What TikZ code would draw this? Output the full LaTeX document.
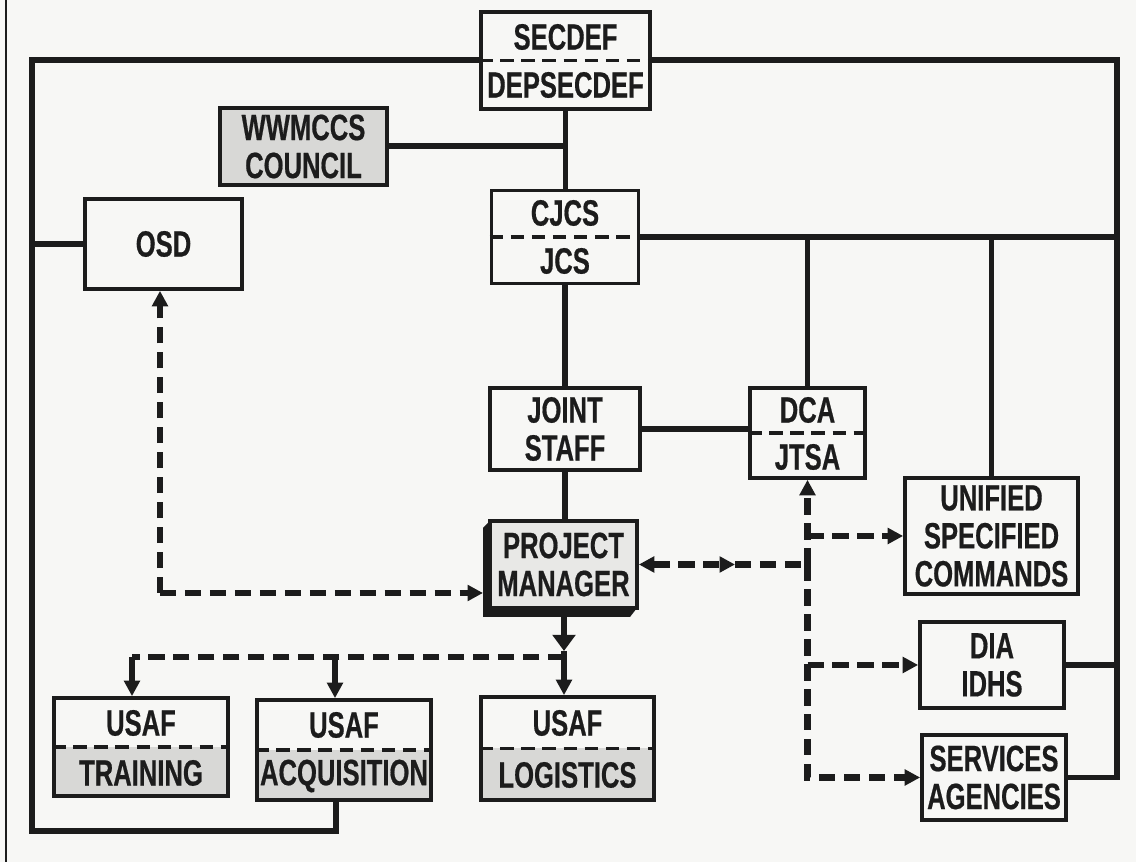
\documentclass[tikz,border=0pt]{standalone}
\usepackage{fontspec}
\setmainfont{Liberation Sans}[FakeStretch=0.7, BoldFeatures={FakeBold=0.5}]
\usetikzlibrary{arrows.meta}
\definecolor{bg}{HTML}{F7F7F5}
\definecolor{ink}{HTML}{1C1C1C}
\definecolor{grayfill}{HTML}{D8D8D6}
\definecolor{pmfill}{HTML}{E8E8E6}
\tikzset{
  box/.style={draw=ink, line width=1.05pt, fill=bg, inner sep=0pt, align=center,
    font=\bfseries\fontsize{10.4}{10.8}\selectfont, text=ink},
  sz/.style 2 args={minimum width=#1*0.01cm, minimum height=#2*0.01cm},
  lowshade/.style={path picture={\fill[grayfill] (path picture bounding box.west) rectangle (path picture bounding box.south east);}},
  lbl/.style={inner sep=0pt, font=\bfseries\fontsize{10.4}{10.8}\selectfont, text=ink},
  conn/.style={draw=ink, line width=1.7pt},
  dsh/.style={draw=ink, line width=1.75pt, dash pattern=on 4.6pt off 2.5pt},
  divd/.style={draw=ink, line width=1pt, dash pattern=on 3.8pt off 2.2pt},
  tri/.tip={Triangle[length=4.4pt,width=4.4pt]},
  bigtri/.tip={Triangle[length=4.6pt,width=6.4pt]}
}
\begin{document}
\begin{tikzpicture}[x=0.01cm, y=-0.01cm]
\useasboundingbox (0,0) rectangle (1136,862);
\fill[bg] (0,0) rectangle (1136,862);
\draw[ink, line width=0.6pt] (6,0) -- (6,862);

% boxes
\node[box, sz={169}{97}] (secdef) at (565.5,60.5) {};
\node[lbl] (secdef-t) at (565.5,37) {SECDEF};
\node[lbl] (secdef-b) at (565.5,85) {DEPSECDEF};

\node[box, sz={167}{77}, fill=grayfill] (wwmccs) at (303.5,146.5) {WWMCCS\\COUNCIL};
\node[box, sz={157}{90}] (osd) at (163.5,244) {OSD};

\node[box, sz={147}{93}] (cjcs) at (565,237) {};
\node[lbl] (cjcs-t) at (565,213) {CJCS};
\node[lbl] (cjcs-b) at (565,261) {JCS};

\node[box, sz={150}{82}] (joint) at (565,429) {JOINT\\STAFF};

\node[box, sz={115}{90}] (dca) at (807.5,433) {};
\node[lbl] (dca-t) at (807.5,410) {DCA};
\node[lbl] (dca-b) at (807.5,457) {JTSA};

\node[box, sz={173}{116}] (unified) at (991.5,536) {UNIFIED\\SPECIFIED\\COMMANDS};
\node[box, sz={144}{86}] (dia) at (992,665) {DIA\\IDHS};
\node[box, sz={144}{85}] (services) at (994,777.5) {SERVICES\\AGENCIES};

% project manager with extruded edge
\fill[ink] (490,521) -- (483,528) -- (483,617) -- (630,617) -- (637,608) -- (637,521) -- cycle;
\node[box, sz={147}{87}, fill=pmfill] (pm) at (563.5,564.5) {PROJECT\\MANAGER};

\node[box, sz={174}{98}, lowshade] (training) at (141,747) {};
\node[lbl] (training-t) at (141,723) {USAF};
\node[lbl] (training-b) at (141,773) {TRAINING};

\node[box, sz={174}{100}, lowshade] (acq) at (344,750) {};
\node[lbl] (acq-t) at (344,725) {USAF};
\node[lbl] (acq-b) at (344,776) {ACQUISITION};

\node[box, sz={173}{103}, lowshade] (logistics) at (567.5,748.5) {};
\node[lbl] (logistics-t) at (567.5,723) {USAF};
\node[lbl] (logistics-b) at (567.5,775) {LOGISTICS};

% dividers
\foreach \n in {secdef,cjcs,dca,training,acq,logistics}
  \draw[divd] (\n.west) -- (\n.east);

% helper coordinates
\coordinate (lx) at (32,0);
\coordinate (rx) at (1117,0);
\coordinate (lb) at (32,831);
\coordinate (acqb) at (336,800);
\coordinate (oc) at (160,593);
\coordinate (pmin) at (483,593);
\coordinate (mid) at (735,564.5);
\coordinate (jn) at (807.5,564.5);
\coordinate (pmb) at (564,617);
\coordinate (pmarr) at (564,651);
\coordinate (split) at (564,657);
\coordinate (trx) at (132,657);
\coordinate (acx) at (335,657);

% solid connectors
\draw[conn] (secdef.west) -| (lb) -| (acqb);
\draw[conn] (secdef.east) -| (services.east -| rx) -- (services.east);
\draw[conn] (dia.east) -- (dia.east -| rx);
\draw[conn] (secdef.south) -- (secdef.south |- cjcs.north);
\draw[conn] (wwmccs.east) -- (wwmccs.east -| secdef.south);
\draw[conn] (osd.west) -- (osd.west -| lx);
\draw[conn] (cjcs.east) -- (cjcs.east -| rx);
\draw[conn] (dca.north) -- (dca.north |- cjcs.east);
\draw[conn] (unified.north) -- (unified.north |- cjcs.east);
\draw[conn] (cjcs.south) -- (cjcs.south |- joint.north);
\draw[conn] (joint.east) -- (joint.east -| dca.west);
\draw[conn] (joint.south) -- (joint.south |- pm.north);

% project manager downwards
\draw[conn, -bigtri] (pmb) -- (pmarr);
\draw[conn, -tri] (pmarr) -- (pmarr |- logistics.north);
\draw[dsh] (split) -- (trx);
\draw[conn, -tri] (trx) -- (trx |- training.north);
\draw[conn, -tri] (acx) -- (acx |- acq.north);

% dashed links
\draw[dsh, -tri] (oc) -- (oc |- osd.south);
\draw[dsh, -tri] (oc) -- (pmin);
\draw[dsh, tri-tri] (pm.east) -- (mid);
\draw[dsh] (mid) -- (jn);
\draw[dsh, -tri] (jn) -- (dca.south);
\draw[dsh, -tri] (jn) |- (services.west);
\draw[dsh, -tri] (jn |- unified.west) -- (unified.west);
\draw[dsh, -tri] (jn |- dia.west) -- (dia.west);
\end{tikzpicture}
\end{document}
